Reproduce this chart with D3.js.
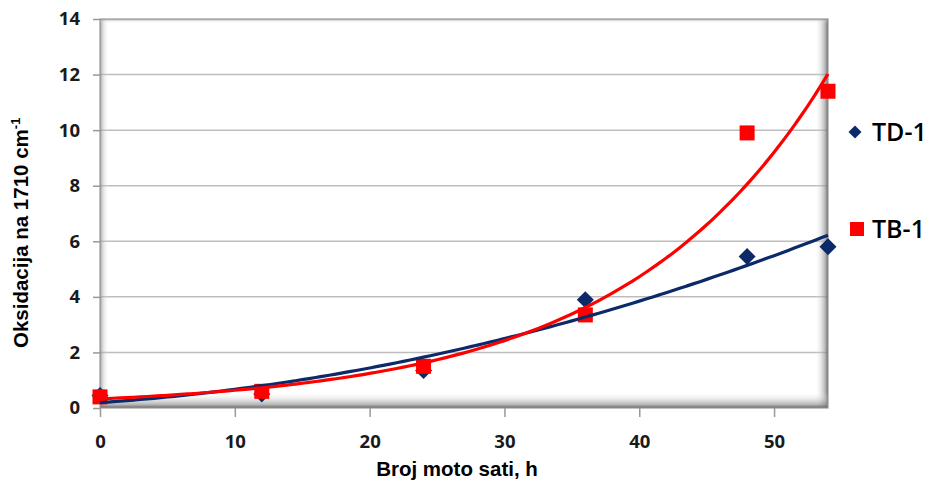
<!DOCTYPE html>
<html lang="en">
    <head>
        <meta charset="utf-8">
        <title>Oksidacija</title>
        <script src="https://d3js.org/d3.v7.min.js"></script>
        <style type="text/css">
            body { margin: 0; background: white; }
            .tick text {
                font-family: "Open Sans", sans-serif;
                font-weight: 700;
                font-size: 18.5px;
                fill: #1a1a1a;
            }
            .axis path { display: none; }
            .axis line { stroke: #999; stroke-width: 1.5px; }
            .title {
                font-family: "Liberation Sans", Arial, sans-serif;
                font-weight: bold;
                font-size: 20.5px;
                fill: #000;
            }
            .legend text {
                font-family: "Open Sans", sans-serif;
                font-weight: 600;
                font-size: 25px;
                fill: #000;
            }
        </style>
    </head>
    <body>
        <script type="text/javascript">

            const w = 935;
            const h = 485;
            const margin = {top: 19, right: 107, bottom: 77, left: 100};

            // data
            const hours = [0, 12, 24, 36, 48, 54];
            const td1 = [0.45, 0.5, 1.35, 3.9, 5.45, 5.8];
            const tb1 = [0.4, 0.6, 1.5, 3.35, 9.9, 11.4];
            const xTicks = [0, 10, 20, 30, 40, 50];
            const yTicks = [0, 2, 4, 6, 8, 10, 12, 14];
            const seriesNames = ["TD-1", "TB-1"];

            const xScale = d3.scaleLinear()
                             .domain([0, 54])
                             .range([margin.left, w - margin.right]);
            const yScale = d3.scaleLinear()
                             .domain([0, 14])
                             .range([h - margin.bottom, margin.top]);

            const svg = d3.select("body")
                    .append("svg")
                    .attr("width", w)
                    .attr("height", h);

            const x0 = xScale(0), x1 = xScale(54);
            const y0 = yScale(0), y1 = yScale(14);

            //gradients for the inner shadow of the plot area
            const defs = svg.append("defs");
            function grad(id, x1_, y1_, x2_, y2_, stops) {
                const g = defs.append("linearGradient").attr("id", id)
                    .attr("x1", x1_).attr("y1", y1_).attr("x2", x2_).attr("y2", y2_);
                stops.forEach(s => g.append("stop").attr("offset", s[0])
                    .attr("stop-color", s[1]).attr("stop-opacity", s[2]));
            }
            grad("gLeft", "0", "0", "1", "0", [[0, "#888", 0.85], [0.3, "#aaa", 0.45], [1, "#fff", 0]]);
            grad("gRight", "1", "0", "0", "0", [[0, "#555", 0.95], [0.2, "#888", 0.65], [1, "#fff", 0]]);
            grad("gBottom", "0", "1", "0", "0", [[0, "#555", 0.95], [0.2, "#888", 0.65], [1, "#fff", 0]]);
            grad("gTop", "0", "0", "0", "1", [[0, "#888", 0.7], [1, "#fff", 0]]);

            svg.append("rect")
               .attr("x", x0).attr("y", y1)
               .attr("width", x1 - x0).attr("height", y0 - y1)
               .attr("fill", "white");

            //gridlines
            svg.append("g")
               .selectAll("line")
               .data(yTicks.filter(d => d > 0 && d < 14))
               .join("line")
               .attr("x1", x0).attr("x2", x1)
               .attr("y1", d => yScale(d)).attr("y2", d => yScale(d))
               .attr("stroke", "#bdbdbd")
               .attr("stroke-width", 1.5);

            //shadow bands
            svg.append("rect").attr("x", x0).attr("y", y1).attr("width", 9).attr("height", y0 - y1).attr("fill", "url(#gLeft)");
            svg.append("rect").attr("x", x1 - 13).attr("y", y1).attr("width", 13).attr("height", y0 - y1).attr("fill", "url(#gRight)");
            svg.append("rect").attr("x", x0).attr("y", y0 - 16).attr("width", x1 - x0).attr("height", 16).attr("fill", "url(#gBottom)");
            svg.append("rect").attr("x", x0).attr("y", y1).attr("width", x1 - x0).attr("height", 4).attr("fill", "url(#gTop)");
            svg.append("rect")
               .attr("x", x0).attr("y", y1)
               .attr("width", x1 - x0).attr("height", y0 - y1)
               .attr("fill", "none")
               .attr("stroke", "#9a9a9a")
               .attr("stroke-width", 1.2);

            //axes
            const bottomAxis = d3.axisBottom(xScale)
                                 .tickValues(xTicks)
                                 .tickSize(9)
                                 .tickPadding(18);
            svg.append("g")
               .attr("class", "axis")
               .attr("transform", "translate(0," + y0 + ")")
               .call(bottomAxis);

            const leftAxis = d3.axisLeft(yScale)
                               .tickValues(yTicks)
                               .tickSize(7)
                               .tickPadding(13);
            svg.append("g")
               .attr("class", "axis")
               .attr("transform", "translate(" + x0 + ",0)")
               .call(leftAxis);

            //axis titles
            svg.append("text")
               .attr("class", "title")
               .attr("x", 457)
               .attr("y", 476)
               .attr("text-anchor", "middle")
               .text("Broj moto sati, h");

            const yt = svg.append("text")
               .attr("class", "title")
               .attr("transform", "translate(28,348) rotate(-90)")
               .attr("text-anchor", "start");
            yt.append("tspan").text("Oksidacija na 1710 cm");
            yt.append("tspan").attr("dy", -8).attr("font-size", 13).text("-1");

            //trendlines fitted from the points
            function polyFit2(xs, ys) {
                let s = [0, 0, 0, 0, 0], t = [0, 0, 0];
                xs.forEach((x, i) => {
                    for (let k = 0; k < 5; k++) s[k] += Math.pow(x, k);
                    for (let k = 0; k < 3; k++) t[k] += ys[i] * Math.pow(x, k);
                });
                const M = [[s[0], s[1], s[2], t[0]], [s[1], s[2], s[3], t[1]], [s[2], s[3], s[4], t[2]]];
                for (let i = 0; i < 3; i++) {
                    for (let j = i + 1; j < 3; j++) {
                        const f = M[j][i] / M[i][i];
                        for (let k = i; k < 4; k++) M[j][k] -= f * M[i][k];
                    }
                }
                const c = [0, 0, 0];
                for (let i = 2; i >= 0; i--) {
                    let v = M[i][3];
                    for (let k = i + 1; k < 3; k++) v -= M[i][k] * c[k];
                    c[i] = v / M[i][i];
                }
                return x => c[0] + c[1] * x + c[2] * x * x;
            }
            function expFit(xs, ys) {
                const ly = ys.map(Math.log);
                const mx = d3.mean(xs), my = d3.mean(ly);
                let sxy = 0, sxx = 0;
                xs.forEach((x, i) => { sxy += (x - mx) * (ly[i] - my); sxx += (x - mx) * (x - mx); });
                const b = sxy / sxx;
                const a = Math.exp(my - b * mx);
                return x => a * Math.exp(b * x);
            }

            const fTD = polyFit2(hours, td1);
            const fTB = expFit(hours, tb1);
            const xs = d3.range(0, 54.01, 0.5);

            const line = d3.line()
                .x(d => xScale(d))
                .curve(d3.curveMonotoneX);

            function diamondPath(r) {
                return "M0," + (-r) + "L" + r + ",0L0," + r + "L" + (-r) + ",0Z";
            }

            //markers
            svg.append("g")
               .selectAll("path")
               .data(hours.map((d, i) => [d, td1[i]]))
               .join("path")
               .attr("d", diamondPath(8.5))
               .attr("transform", d => "translate(" + xScale(d[0]) + "," + yScale(d[1]) + ")")
               .attr("fill", "#0c2a6a");

            svg.append("g")
               .selectAll("rect")
               .data(hours.map((d, i) => [d, tb1[i]]))
               .join("rect")
               .attr("x", d => xScale(d[0]) - 7.5)
               .attr("y", d => yScale(d[1]) - 7.5)
               .attr("width", 15).attr("height", 15)
               .attr("fill", "#ff0000");

            svg.append("path")
               .datum(xs)
               .attr("d", line.y(d => yScale(fTD(d))))
               .attr("fill", "none")
               .attr("stroke", "#0c2a6a")
               .attr("stroke-width", 3.2);

            svg.append("path")
               .datum(xs)
               .attr("d", line.y(d => yScale(fTB(d))))
               .attr("fill", "none")
               .attr("stroke", "#ff0000")
               .attr("stroke-width", 3.2);

            //legend
            const legend = svg.append("g").attr("class", "legend");
            legend.append("path")
               .attr("d", diamondPath(6.5))
               .attr("transform", "translate(855,132)")
               .attr("fill", "#0c2a6a");
            legend.append("rect")
               .attr("x", 850).attr("y", 222)
               .attr("width", 14).attr("height", 14)
               .attr("fill", "#ff0000");
            legend.selectAll("text")
               .data(seriesNames)
               .join("text")
               .attr("x", 872)
               .attr("y", (d, i) => i == 0 ? 132 : 229)
               .attr("dy", "0.36em")
               .text(d => d);
        </script>
    </body>
</html>
